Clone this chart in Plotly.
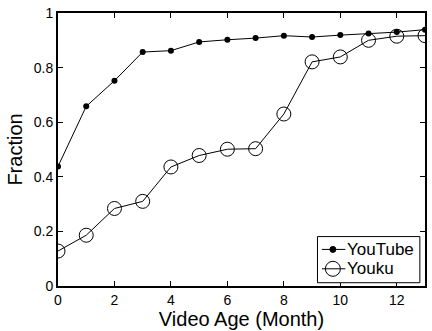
import plotly.graph_objects as go

# Months since upload
months = list(range(14))

# Fraction of videos by age, per site
youtube = [0.438, 0.658, 0.752, 0.857, 0.862, 0.894, 0.902, 0.908,
           0.917, 0.912, 0.919, 0.925, 0.930, 0.939]
youku = [0.128, 0.186, 0.284, 0.310, 0.436, 0.478, 0.501, 0.503,
         0.630, 0.821, 0.839, 0.900, 0.915, 0.917]

series_names = ["YouTube", "Youku"]

x_ticks = [0, 2, 4, 6, 8, 10, 12]
y_ticks = [0, 0.2, 0.4, 0.6, 0.8, 1]
y_tick_text = ["0", "0.2", "0.4", "0.6", "0.8", "1"]

FONT = "Liberation Sans, Arial, Helvetica, sans-serif"

fig = go.Figure()
fig.add_trace(go.Scatter(
    x=months, y=youtube, name=series_names[0], mode="lines+markers",
    line=dict(color="black", width=1),
    marker=dict(symbol="circle", size=6, color="black"),
    showlegend=False,
))
fig.add_trace(go.Scatter(
    x=months, y=youku, name=series_names[1], mode="lines+markers",
    line=dict(color="black", width=1),
    marker=dict(symbol="circle-open", size=14, color="black",
                line=dict(width=1, color="black")),
    showlegend=False,
))

axis_common = dict(
    showline=True, linecolor="black", linewidth=2, mirror="ticks",
    ticks="inside", ticklen=5, tickwidth=1, tickcolor="black",
    showgrid=False, zeroline=False,
    tickfont=dict(family=FONT, size=14, color="black"),
)

fig.update_xaxes(
    range=[0, 13], tickvals=x_ticks,
    title=dict(text="Video Age (Month)", standoff=4,
               font=dict(family=FONT, size=20, color="black")),
    **axis_common,
)
fig.update_yaxes(
    range=[0, 1], tickvals=y_ticks, ticktext=y_tick_text,
    title=dict(text="Fraction", standoff=6,
               font=dict(family=FONT, size=20, color="black")),
    **axis_common,
)

# Compact boxed legend in the lower-right corner (paper coordinates)
box = dict(x0=0.707, x1=0.986, y0=0.012, y1=0.181)
row_y = [0.134, 0.063]
sample_x0, sample_x1, sample_mid = 0.719, 0.783, 0.749
text_x = 0.784

shapes = [dict(type="rect", xref="paper", yref="paper", layer="above",
               line=dict(color="black", width=1), fillcolor="white", **box)]
annotations = []
for i, name in enumerate(series_names):
    y = row_y[i]
    shapes.append(dict(type="line", xref="paper", yref="paper", layer="above",
                       x0=sample_x0, x1=sample_x1, y0=y, y1=y,
                       line=dict(color="black", width=1)))
    r = 3 if i == 0 else 7.5
    shapes.append(dict(type="circle", xref="paper", yref="paper", layer="above",
                       xsizemode="pixel", ysizemode="pixel",
                       xanchor=sample_mid, yanchor=y,
                       x0=-r, x1=r, y0=-r, y1=r,
                       line=dict(color="black", width=1),
                       fillcolor="black" if i == 0 else "rgba(0,0,0,0)"))
    annotations.append(dict(text=name, xref="paper", yref="paper",
                            x=text_x, y=y, xanchor="left", yanchor="middle",
                            showarrow=False, borderpad=0,
                            font=dict(family=FONT, size=17, color="black")))

fig.update_layout(
    width=432, height=331,
    margin=dict(l=58, r=5, t=9, b=40),
    paper_bgcolor="white", plot_bgcolor="white",
    font=dict(family=FONT, color="black"),
    showlegend=False,
    shapes=shapes, annotations=annotations,
)

fig.write_html("out.html")
